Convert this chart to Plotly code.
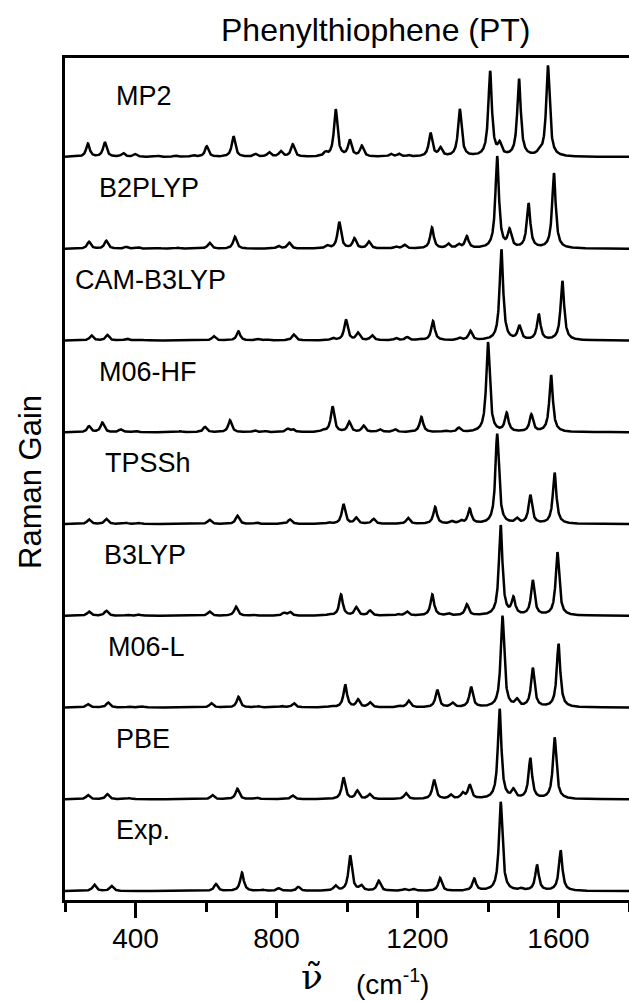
import numpy as np
import plotly.graph_objects as go

# Raman band positions (cm-1) and relative intensities for each level of theory
methods = ["Exp.", "PBE", "M06-L", "B3LYP", "TPSSh", "M06-HF", "CAM-B3LYP", "B2PLYP", "MP2"]

exp_pos = [283, 332, 628, 702, 761, 806, 862, 967, 1009, 1040, 1090, 1163, 1189, 1264, 1361, 1436, 1494, 1539, 1606]
exp_int = [0.07, 0.055, 0.075, 0.2, 0.012, 0.03, 0.045, 0.055, 0.385, 0.055, 0.11, 0.02, 0.02, 0.14, 0.13, 0.97, 0.02, 0.28, 0.44]

pbe_pos = [265, 320, 383, 618, 689, 743, 846, 990, 1029, 1064, 1167, 1247, 1294, 1328, 1348, 1433, 1472, 1520, 1589]
pbe_int = [0.045, 0.055, 0.012, 0.045, 0.115, 0.018, 0.04, 0.235, 0.09, 0.055, 0.065, 0.21, 0.045, 0.06, 0.15, 0.98, 0.09, 0.44, 0.67]

m06l_pos = [265, 322, 383, 419, 615, 692, 749, 815, 849, 954, 995, 1031, 1065, 1150, 1175, 1256, 1299, 1352, 1441, 1482, 1527, 1600]
m06l_int = [0.036, 0.055, 0.012, 0.012, 0.047, 0.116, 0.012, 0.015, 0.047, 0.012, 0.246, 0.083, 0.054, 0.015, 0.072, 0.19, 0.047, 0.22, 0.996, 0.072, 0.424, 0.69]

b3lyp_pos = [268, 317, 378, 409, 610, 685, 733, 821, 838, 949, 983, 1026, 1065, 1145, 1170, 1242, 1289, 1340, 1436, 1472, 1527, 1597]
b3lyp_int = [0.045, 0.055, 0.012, 0.012, 0.045, 0.1, 0.012, 0.03, 0.04, 0.012, 0.23, 0.09, 0.055, 0.015, 0.045, 0.23, 0.02, 0.12, 0.98, 0.18, 0.38, 0.69]

tpssh_pos = [268, 317, 373, 409, 610, 689, 743, 838, 949, 990, 1026, 1075, 1173, 1250, 1297, 1323, 1348, 1426, 1482, 1520, 1589]
tpssh_int = [0.05, 0.055, 0.012, 0.012, 0.045, 0.09, 0.015, 0.05, 0.015, 0.215, 0.065, 0.055, 0.065, 0.185, 0.025, 0.03, 0.16, 0.98, 0.05, 0.31, 0.555]

m06hf_pos = [268, 306, 358, 399, 527, 597, 668, 738, 769, 831, 846, 932, 959, 1006, 1047, 1093, 1136, 1211, 1278, 1317, 1400, 1453, 1523, 1579]
m06hf_int = [0.065, 0.105, 0.03, 0.015, 0.01, 0.058, 0.13, 0.02, 0.012, 0.035, 0.03, 0.02, 0.28, 0.11, 0.07, 0.03, 0.03, 0.165, 0.015, 0.045, 0.98, 0.2, 0.185, 0.62]

cam_pos = [275, 320, 375, 416, 622, 692, 749, 774, 849, 959, 997, 1031, 1071, 1139, 1170, 1206, 1244, 1319, 1350, 1438, 1489, 1544, 1611]
cam_int = [0.055, 0.06, 0.02, 0.01, 0.047, 0.1, 0.015, 0.012, 0.065, 0.025, 0.225, 0.08, 0.055, 0.025, 0.036, 0.015, 0.21, 0.025, 0.1, 0.99, 0.15, 0.28, 0.645]

b2plyp_pos = [268, 317, 373, 407, 465, 520, 610, 682, 805, 836, 944, 978, 1021, 1062, 1139, 1163, 1241, 1287, 1317, 1340, 1426, 1461, 1515, 1587]
b2plyp_int = [0.076, 0.087, 0.02, 0.015, 0.01, 0.01, 0.065, 0.13, 0.03, 0.065, 0.03, 0.29, 0.11, 0.076, 0.02, 0.04, 0.23, 0.05, 0.04, 0.13, 1.0, 0.185, 0.485, 0.82]

mp2_pos = [265, 313, 365, 399, 464, 512, 563, 602, 678, 740, 779, 812, 846, 939, 968, 1008, 1042, 1124, 1147, 1175, 1237, 1265, 1320, 1406, 1433, 1488, 1546, 1570]
mp2_int = [0.145, 0.16, 0.04, 0.03, 0.012, 0.015, 0.02, 0.115, 0.225, 0.03, 0.05, 0.06, 0.135, 0.04, 0.515, 0.175, 0.115, 0.03, 0.03, 0.015, 0.255, 0.09, 0.515, 0.925, 0.12, 0.84, 0.035, 0.99]

bands = [
    (exp_pos, exp_int), (pbe_pos, pbe_int), (m06l_pos, m06l_int), (b3lyp_pos, b3lyp_int),
    (tpssh_pos, tpssh_int), (m06hf_pos, m06hf_int), (cam_pos, cam_int),
    (b2plyp_pos, b2plyp_int), (mp2_pos, mp2_int),
]

# label anchor (left edge, cm-1) for each spectrum
label_x = [340, 340, 315, 306, 309, 291, 224, 291, 340]

FWHM = 12.0
wn = np.arange(200.0, 1800.5, 0.5)


def broaden(pos, inten, fwhm=FWHM):
    """Lorentzian-broadened stick spectrum."""
    g = fwhm / 2.0
    out = np.zeros_like(wn)
    for p, a in zip(pos, inten):
        out += a * g**2 / ((wn - p) ** 2 + g**2)
    return out


W, H = 629, 1001
L, R, T, B = 65, 0, 58, 101
pw, ph = W - L - R, H - T - B
ymin, ymax = -0.098, 9.079

FONT = "Liberation Sans, Arial, sans-serif"

fig = go.Figure()
for k, (pos, inten) in enumerate(bands):
    fig.add_trace(go.Scatter(
        x=wn, y=k + broaden(pos, inten), mode="lines",
        line=dict(color="black", width=2.5), hoverinfo="skip",
    ))
    fig.add_annotation(
        x=label_x[k], y=k + 0.66, xref="x", yref="y", text=methods[k],
        showarrow=False, xanchor="left", yanchor="middle",
        font=dict(family=FONT, size=27, color="black"),
    )


def px(xp):
    return (xp - L) / pw


def py(yp):
    return (H - B - yp) / ph


def label(xp, yp, text, size, family=FONT, angle=0):
    fig.add_annotation(x=px(xp), y=py(yp), xref="paper", yref="paper",
                       text=text, showarrow=False, textangle=angle,
                       xanchor="center", yanchor="middle",
                       font=dict(family=family, size=size, color="black"))


label(376, 30, "Phenylthiophene (PT)", 32)
label(30, 482, "Raman Gain", 31, angle=-90)
label(312, 976, "ν\u0303", 36, family="DejaVu Serif, serif")
label(392, 982, "(cm<sup>-1</sup>)", 28)

fig.update_layout(
    width=W, height=H,
    margin=dict(l=L, r=R, t=T, b=B, pad=0),
    paper_bgcolor="white", plot_bgcolor="white",
    showlegend=False,
    xaxis=dict(
        range=[200, 1800], tick0=400, dtick=400, ticks="outside",
        ticklen=15, tickwidth=3, tickcolor="black",
        ticklabelstandoff=-4,
        showline=True, linewidth=3, linecolor="black", mirror=True,
        showgrid=False, zeroline=False,
        tickfont=dict(family=FONT, size=28, color="black"),
        minor=dict(tick0=200, dtick=400, ticks="outside", ticklen=9,
                   tickwidth=3, tickcolor="black", showgrid=False),
    ),
    yaxis=dict(
        range=[ymin, ymax], showticklabels=False, ticks="",
        showline=True, linewidth=3, linecolor="black", mirror=False,
        showgrid=False, zeroline=False,
    ),
)

fig.write_html("out.html")
